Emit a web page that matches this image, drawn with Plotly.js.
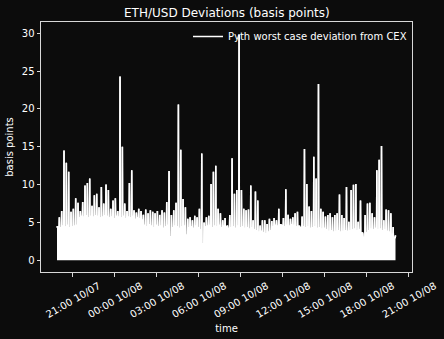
<!DOCTYPE html>
<html><head><meta charset="utf-8">
<script src="https://cdn.plot.ly/plotly-3.0.1.min.js"></script>
<style>html,body{margin:0;padding:0;background:#0c0c0c;}#chart{width:444px;height:339px;}</style>
</head><body><div id="chart"></div>
<script>
const seriesName = 'Pyth worst case deviation from CEX';
const chartTitle = 'ETH/USD Deviations (basis points)';
const xTitle = 'time';
const yTitle = 'basis points';
const startTimeUTC = Date.UTC(2022, 9, 7, 19, 53, 0);
const sampleMinutes = 10;
// local maxima of the deviation, one per 10-minute window
const peakValues = [
 4.5,5.7,6.5,14.5,12.9,11.7,6.4,6.8,8.2,7.6,
 6.5,7.7,9.9,10.2,10.8,7.2,8.6,8.8,7.0,9.7,
 7.5,10.0,9.3,6.8,7.9,8.2,6.5,24.3,15.0,7.5,
 6.5,10.2,11.9,6.6,6.3,6.8,6.5,6.0,6.7,6.2,
 6.6,6.4,6.2,6.5,6.0,6.6,6.3,7.7,11.8,6.0,
 6.6,7.6,20.6,14.6,8.1,7.0,5.5,5.7,5.3,5.9,
 5.7,6.8,14.1,5.0,5.7,5.9,10.1,11.7,12.5,6.8,
 6.2,5.3,5.6,4.6,6.0,13.5,8.8,9.3,29.8,9.3,
 6.8,6.6,6.7,9.9,5.3,9.1,7.9,4.6,5.3,5.3,
 4.8,5.5,5.2,5.6,5.3,6.8,4.4,5.6,9.4,6.0,
 5.5,5.7,6.2,6.4,4.4,5.8,14.7,10.1,7.1,6.5,
 13.7,10.8,23.3,6.8,6.4,5.8,6.0,6.2,5.7,6.0,
 6.2,8.7,6.0,5.6,9.7,5.1,9.3,10.0,10.1,5.1,
 7.9,3.5,6.0,7.5,7.6,6.2,5.7,11.9,13.3,15.1,
 5.3,6.7,6.6,6.2,4.4,3.3
];
// typical (floor) level between consecutive peaks
const troughValues = [
 4.4,4.3,4.5,4.4,4.6,4.3,4.4,4.5,4.6,
 5.6,5.8,5.7,5.9,5.6,5.8,5.7,5.9,5.8,5.6,5.7,5.9,5.8,5.6,5.7,5.5,5.8,5.7,5.6,5.8,5.5,5.7,5.6,5.8,5.4,5.6,5.5,5.3,
 4.6,4.4,4.7,4.5,4.3,4.6,4.4,4.5,4.2,4.4,4.6,3.1,4.3,4.5,4.4,4.2,4.4,4.5,3.3,4.3,4.4,4.2,4.5,4.3,
 4.0,2.2,
 4.4,4.5,4.6,4.3,4.5,4.4,4.6,4.3,4.5,4.4,4.2,
 4.3,4.4,4.2,4.5,4.3,4.4,4.2,4.3,4.1,4.3,4.0,3.9,
 3.7,3.8,3.6,3.5,3.7,3.9,
 4.4,4.6,4.5,4.7,4.6,4.4,4.6,4.5,4.7,4.6,4.4,4.5,4.3,4.4,
 4.3,4.4,4.2,4.3,4.4,4.2,4.3,4.1,4.2,4.0,
 3.8,3.9,3.7,3.8,3.9,3.7,3.8,3.9,3.8,3.9,
 4.0,4.1,3.9,4.0,3.6,
 3.0,
 3.6,3.9,4.1,4.0,4.2,4.0,4.1,3.9,4.0,3.8,3.7,3.4,3.0
];
const xTickValues = ['2022-10-07 21:00','2022-10-08 00:00','2022-10-08 03:00','2022-10-08 06:00','2022-10-08 09:00','2022-10-08 12:00','2022-10-08 15:00','2022-10-08 18:00','2022-10-08 21:00'];
const xTickLabels = ['21:00 10/07','00:00 10/08','03:00 10/08','06:00 10/08','09:00 10/08','12:00 10/08','15:00 10/08','18:00 10/08','21:00 10/08'];
const yTickValues = [0,5,10,15,20,25,30];
const xRange = ['2022-10-07 18:44:24','2022-10-08 21:13:40'];
const yRange = [-1.55, 31.5];

function fmt(ms){ return new Date(ms).toISOString().replace('T',' ').replace('Z',''); }
const xs = [], ys = [];
const step = sampleMinutes*60000;
const edge = 60000; // 1-minute rise/fall around each peak
for (let i = 0; i < peakValues.length; i++) {
  const t = startTimeUTC + i*step;
  if (i > 0) { xs.push(fmt(t - edge)); ys.push(troughValues[i-1]); }
  xs.push(fmt(t)); ys.push(peakValues[i]);
  if (i < troughValues.length) { xs.push(fmt(t + edge)); ys.push(troughValues[i]); }
}
const fg = '#ffffff';
const axisCol = '#d8d8d8';
const traces = [
  {x: xs, y: ys, type:'scatter', mode:'lines', fill:'tozeroy', fillcolor:'#ffffff',
   line:{color:'#ffffff', width:1.5}, showlegend:false, hoverinfo:'skip'},
  {x: xs, y: ys, type:'scatter', mode:'lines', name: seriesName,
   line:{color:'#ffffff', width:1.5}}
];
const layout = {
  width:444, height:339,
  paper_bgcolor:'#0c0c0c', plot_bgcolor:'#0c0c0c',
  font:{family:'DejaVu Sans, sans-serif', size:10, color:fg},
  margin:{l:41, r:31.5, t:22, b:67, pad:0},
  title:{text: chartTitle, font:{size:12, color:fg}, x:0.511, xanchor:'center', y:0.962, yanchor:'middle', yref:'container'},
  showlegend:true,
  legend:{x:1, xanchor:'right', y:1, yanchor:'top', bgcolor:'rgba(0,0,0,0)', font:{size:10, color:fg}},
  xaxis:{type:'date', range:xRange, tickmode:'array', tickvals:xTickValues, ticktext:xTickLabels,
    tickangle:-30, ticklabelshift:26, ticks:'outside', ticklen:3.5, tickcolor:axisCol, tickwidth:1,
    showline:true, linecolor:axisCol, linewidth:1, mirror:true, showgrid:false, zeroline:false,
    tickfont:{size:10, color:fg}, title:{text:xTitle, font:{size:10, color:fg}, standoff:6}},
  yaxis:{range:yRange, tickmode:'array', tickvals:yTickValues, ticks:'outside', ticklen:3.5, tickcolor:axisCol,
    showline:true, linecolor:axisCol, linewidth:1, mirror:true, showgrid:false, zeroline:false,
    tickfont:{size:10, color:fg}, title:{text:yTitle, font:{size:10, color:fg}, standoff:6}}
};
Plotly.newPlot('chart', traces, layout, {displayModeBar:false, staticPlot:true});
</script>
</body></html>
